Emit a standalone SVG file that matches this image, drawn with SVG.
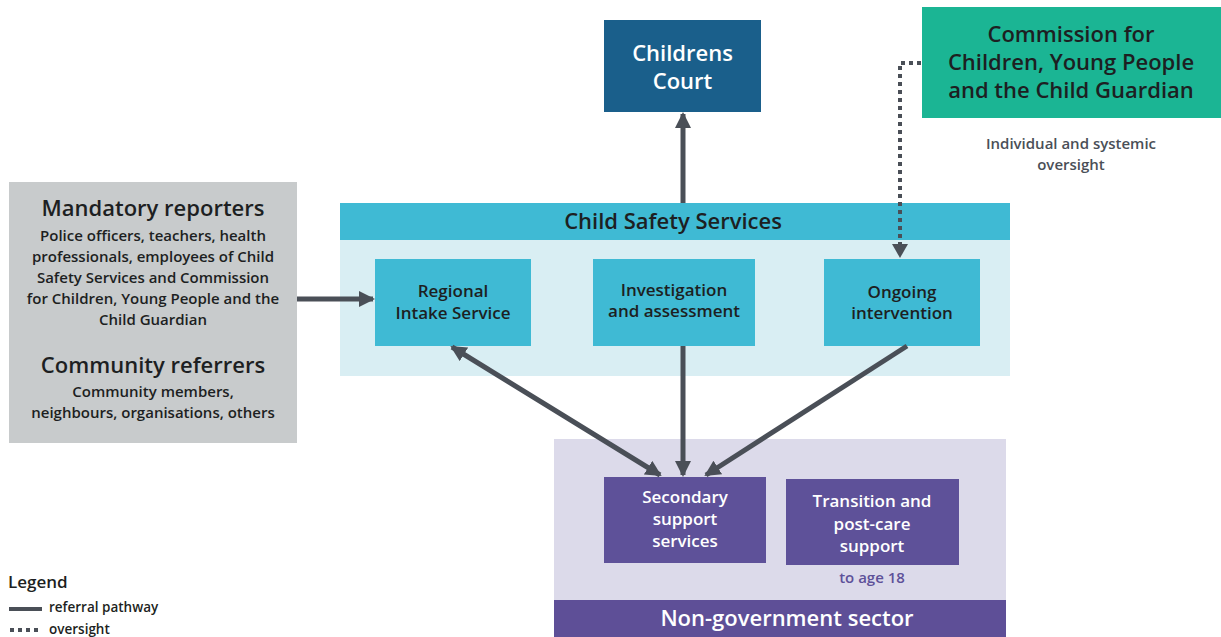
<svg xmlns="http://www.w3.org/2000/svg" width="1221" height="637" viewBox="0 0 1221 637">
<style>
text{font-family:"Open Sans","Noto Sans",sans-serif;font-weight:600;text-anchor:middle}
.dk{fill:#1d1f22}
.wh{fill:#ffffff}
.h1{font-size:22px}
.h2{font-size:17px}
.bd{font-size:15px}
.ln{stroke:#4a4f57;stroke-width:5;fill:none}
.dt{stroke:#4a4f57;stroke-width:4;fill:none;stroke-dasharray:4 4}
</style>
<defs>
<marker id="ah" markerUnits="userSpaceOnUse" markerWidth="16" markerHeight="16" viewBox="0 0 16 16" refX="14" refY="8" orient="auto-start-reverse">
<path d="M0,0 L16,8 L0,16 z" fill="#4a4f57"/>
</marker>
</defs>
<rect width="1221" height="637" fill="#ffffff"/>

<g id="childrens-court">
<rect x="604" y="20" width="157" height="92" fill="#1a5f8b"/>
<text class="h1 wh" x="682.5" y="61">Childrens</text>
<text class="h1 wh" x="682.5" y="89">Court</text>
</g>

<g id="commission">
<rect x="922" y="7" width="299" height="111" fill="#1bb594"/>
<text class="h1 dk" x="1071" y="42">Commission for</text>
<text class="h1 dk" x="1071" y="70">Children, Young People</text>
<text class="h1 dk" x="1071" y="98">and the Child Guardian</text>
<text class="bd" x="1071" y="149" fill="#4a4f57">Individual and systemic</text>
<text class="bd" x="1071" y="170" fill="#4a4f57">oversight</text>
</g>

<g id="child-safety-services">
<rect x="340" y="240" width="670" height="136" fill="#d9eef3"/>
<rect x="340" y="203" width="670" height="37" fill="#3fbad4"/>
<text class="h1 dk" x="673" y="229">Child Safety Services</text>
</g>

<g id="regional-intake">
<rect x="375" y="259" width="156" height="87" fill="#3fbad4"/>
<text class="h2 dk" x="453" y="297">Regional</text>
<text class="h2 dk" x="453" y="319">Intake Service</text>
</g>

<g id="investigation">
<rect x="593" y="259" width="162" height="87" fill="#3fbad4"/>
<text class="h2 dk" x="674" y="296">Investigation</text>
<text class="h2 dk" x="674" y="317">and assessment</text>
</g>

<g id="ongoing">
<rect x="824" y="259" width="156" height="87" fill="#3fbad4"/>
<text class="h2 dk" x="902" y="298">Ongoing</text>
<text class="h2 dk" x="902" y="319">intervention</text>
</g>

<g id="reporters">
<rect x="9" y="182" width="288" height="261" fill="#c8cbcc"/>
<text class="h1 dk" x="153" y="216">Mandatory reporters</text>
<text class="bd dk" x="153" y="241">Police officers, teachers, health</text>
<text class="bd dk" x="153" y="262">professionals, employees of Child</text>
<text class="bd dk" x="153" y="283">Safety Services and Commission</text>
<text class="bd dk" x="153" y="304">for Children, Young People and the</text>
<text class="bd dk" x="153" y="325">Child Guardian</text>
<text class="h1 dk" x="153" y="373">Community referrers</text>
<text class="bd dk" x="153" y="397">Community members,</text>
<text class="bd dk" x="153" y="418">neighbours, organisations, others</text>
</g>

<g id="non-government">
<rect x="554" y="439" width="452" height="161" fill="#dcdaea"/>
<rect x="554" y="600" width="452" height="37" fill="#5e4f97"/>
<text class="h1 wh" x="787" y="626">Non-government sector</text>
</g>

<g id="secondary">
<rect x="604" y="477" width="162" height="86" fill="#5e5199"/>
<text class="h2 wh" x="685" y="503">Secondary</text>
<text class="h2 wh" x="685" y="525">support</text>
<text class="h2 wh" x="685" y="547">services</text>
</g>

<g id="transition">
<rect x="786" y="479" width="173" height="86" fill="#5e5199"/>
<text class="h2 wh" x="872" y="507">Transition and</text>
<text class="h2 wh" x="872" y="530">post-care</text>
<text class="h2 wh" x="872" y="552">support</text>
<text x="872" y="583" style="font-size:15px" fill="#5e5199">to age 18</text>
</g>

<g id="connectors">
<line class="ln" x1="297" y1="299" x2="373" y2="299" marker-end="url(#ah)"/>
<line class="ln" x1="683" y1="203" x2="683" y2="114" marker-end="url(#ah)"/>
<polyline class="dt" points="921,63 900,63 900,247"/>
<path d="M892,244 L908,244 L900,258 z" fill="#4a4f57"/>
<line class="ln" x1="452" y1="347" x2="660" y2="475" marker-start="url(#ah)" marker-end="url(#ah)"/>
<line class="ln" x1="683" y1="346" x2="683" y2="475" marker-end="url(#ah)"/>
<line class="ln" x1="907" y1="346" x2="706" y2="475" marker-end="url(#ah)"/>
</g>

<g id="legend">
<text x="8" y="588" style="font-size:17px;text-anchor:start" class="dk">Legend</text>
<line x1="9" y1="609" x2="42" y2="609" stroke="#4a4f57" stroke-width="4"/>
<text x="49" y="612" style="font-size:13.5px;text-anchor:start" class="dk">referral pathway</text>
<line x1="10" y1="630" x2="42" y2="630" stroke="#4a4f57" stroke-width="4" stroke-dasharray="4 4"/>
<text x="49" y="634" style="font-size:13.5px;text-anchor:start" class="dk">oversight</text>
</g>
</svg>
